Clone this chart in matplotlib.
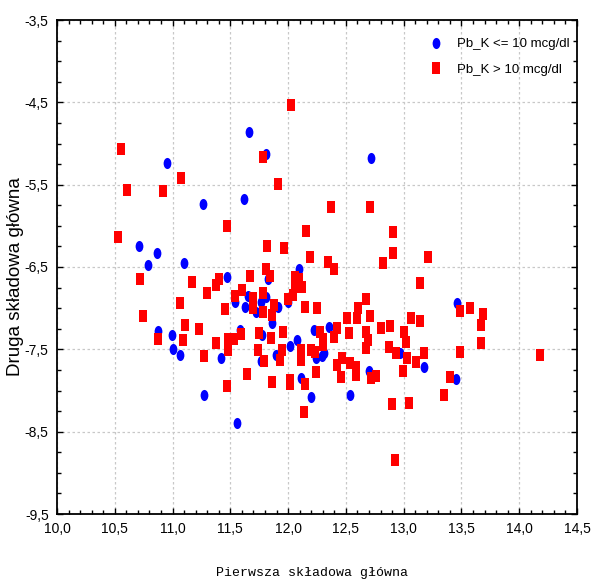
import matplotlib
matplotlib.use("Agg")
import matplotlib.pyplot as plt
import numpy as np
from matplotlib.path import Path
from matplotlib.transforms import Affine2D
from matplotlib.ticker import MultipleLocator

# Pb_K <= 10 mcg/dl (blue ellipses)
low_x = [11.66, 11.806, 10.955, 12.714, 11.263, 11.618, 10.71, 10.865, 10.785, 11.10,
         12.097, 11.468, 11.83, 11.65, 11.54, 11.627, 11.806, 11.765, 11.725, 11.91,
         11.863, 11.996, 10.877, 10.995, 11.0, 11.064, 11.27, 11.555, 11.416, 11.58,
         11.777, 11.763, 11.895, 12.02, 12.074, 12.22, 12.35, 12.24, 12.29, 12.31,
         12.11, 12.20, 12.535, 12.70, 12.97, 13.18, 13.46, 13.45]
low_y = [-4.86, -5.13, -5.24, -5.18, -5.735, -5.67, -6.24, -6.33, -6.476, -6.45,
         -6.53, -6.625, -6.64, -6.85, -6.92, -6.98, -6.87, -6.93, -7.05, -6.99,
         -7.18, -6.93, -7.28, -7.32, -7.50, -7.57, -8.06, -8.40, -7.60, -7.265,
         -7.32, -7.64, -7.57, -7.455, -7.39, -7.27, -7.225, -7.60, -7.58, -7.54,
         -7.85, -8.075, -8.06, -7.76, -7.55, -7.71, -6.94, -7.86]

# Pb_K > 10 mcg/dl (red squares)
high_x = [12.025, 10.556, 11.78, 11.07, 10.606, 10.92, 11.91, 11.474, 10.53, 11.82,
          11.967, 10.72, 12.374, 12.705, 12.155, 12.91, 12.19, 12.91, 13.21, 12.82,
          12.343, 12.40, 13.14, 12.06, 12.094, 12.117, 12.06, 12.045, 11.996, 12.146,
          12.253, 12.674, 12.607, 12.71, 12.60, 12.51, 12.80, 12.88, 12.425, 12.276,
          12.527, 12.397, 12.67, 12.30, 12.30, 12.695, 12.674, 12.11, 12.11, 12.20,
          12.23, 12.47, 12.42, 12.535, 12.585, 12.59, 12.457, 12.757, 12.717, 12.016,
          12.146, 12.24, 12.14, 12.87, 12.93, 13.005, 13.017, 13.06, 13.14, 13.18,
          13.11, 13.03, 12.99, 12.90, 13.05, 12.925, 13.35, 13.40, 13.49, 13.574,
          13.69, 13.67, 13.67, 13.49, 14.18,
          11.165, 11.064, 10.744, 11.11, 11.23, 10.87, 11.09, 11.30, 11.376, 11.40,
          11.54, 11.60, 11.667, 11.70, 11.70, 11.785, 11.806, 11.843, 11.88, 11.785,
          11.863, 11.45, 11.75, 11.85, 11.96, 11.376, 11.48, 11.53, 11.59, 11.27,
          11.477, 11.74, 11.795, 11.93, 11.95, 11.64, 11.86, 12.016, 11.47]
high_y = [-4.53, -5.07, -5.17, -5.42, -5.565, -5.58, -5.49, -6.00, -6.13, -6.24,
          -6.27, -6.65, -5.775, -5.775, -6.06, -6.08, -6.375, -6.33, -6.375, -6.45,
          -6.44, -6.52, -6.70, -6.625, -6.65, -6.74, -6.74, -6.84, -6.89, -6.98,
          -7.00, -6.89, -7.00, -7.10, -7.12, -7.12, -7.24, -7.22, -7.245, -7.29,
          -7.305, -7.35, -7.29, -7.37, -7.45, -7.39, -7.48, -7.51, -7.63, -7.51,
          -7.535, -7.61, -7.69, -7.67, -7.72, -7.81, -7.83, -7.82, -7.845, -7.87,
          -7.925, -7.78, -8.26, -7.475, -7.55, -7.29, -7.41, -7.12, -7.16, -7.55,
          -7.65, -7.60, -7.76, -8.17, -8.15, -8.84, -8.05, -7.83, -7.04, -7.00,
          -7.07, -7.20, -7.42, -7.53, -7.57,
          -6.68, -6.94, -7.10, -7.21, -7.25, -7.37, -7.39, -6.81, -6.72, -6.65,
          -6.85, -6.78, -6.605, -6.88, -7.00, -6.82, -6.53, -6.605, -6.96, -7.05,
          -7.08, -7.01, -7.305, -7.36, -7.29, -7.42, -7.37, -7.37, -7.31, -7.58,
          -7.51, -7.51, -7.64, -7.63, -7.51, -7.80, -7.90, -7.925, -7.94]

series_labels = ["Pb_K <= 10 mcg/dl", "Pb_K > 10 mcg/dl"]
x_ticks = [10.0, 10.5, 11.0, 11.5, 12.0, 12.5, 13.0, 13.5, 14.0, 14.5]
y_ticks = [-9.5, -8.5, -7.5, -6.5, -5.5, -4.5, -3.5]

SANS = ["Liberation Sans", "DejaVu Sans"]
W, H = 591, 580

ellipse = Path.unit_circle().transformed(Affine2D().scale(0.7, 1.0))
rect = Path([(-0.65, -1), (0.65, -1), (0.65, 1), (-0.65, 1), (-0.65, -1)],
            [Path.MOVETO, Path.LINETO, Path.LINETO, Path.LINETO, Path.CLOSEPOLY])

fig = plt.figure(figsize=(W / 100, H / 100), dpi=100)
ax = fig.add_axes([57 / W, 1 - 514 / H, 520 / W, 494 / H])

ax.plot(low_x, low_y, linestyle="none", marker=ellipse, markersize=8,
        color="#0000ff", markeredgewidth=0, label=series_labels[0], zorder=3)
ax.plot(high_x, high_y, linestyle="none", marker=rect, markersize=8,
        color="#ff0000", markeredgewidth=0, label=series_labels[1], zorder=3)

ax.set_xlim(10.0, 14.5)
ax.set_ylim(-9.5, -3.5)
ax.set_xticks(x_ticks)
ax.set_yticks(y_ticks)
ax.set_xticklabels([f"{v:.1f}".replace(".", ",") for v in x_ticks], family=SANS, fontsize=10)
ax.set_yticklabels([f"{v:.1f}".replace(".", ",") for v in y_ticks], family=SANS, fontsize=10)
ax.xaxis.set_minor_locator(MultipleLocator(0.1))
ax.yaxis.set_minor_locator(MultipleLocator(0.25))
ax.tick_params(which="both", direction="in", top=True, right=True, width=1.0)
ax.tick_params(which="major", length=4, pad=6)
ax.tick_params(which="minor", length=3)

ax.grid(True, which="major", color="#c8c8c8", linestyle=(0, (2, 2)), linewidth=0.9, zorder=0)
ax.set_axisbelow(True)
for s in ax.spines.values():
    s.set_linewidth(1.3)

fig.text(312 / W, 1 - 573 / H, "Pierwsza składowa główna",
         family=["Liberation Mono", "DejaVu Sans Mono"], fontsize=9.5,
         ha="center", va="center")
fig.text(16 / W, 1 - 277 / H, "Druga składowa główna", family=SANS, fontsize=13.5,
         rotation=90, ha="center", va="center")

ax.legend(loc="upper left", bbox_to_anchor=(428 / W, 1 - 38 / H),
          bbox_transform=fig.transFigure, frameon=False,
          prop={"family": SANS, "size": 9.5}, handletextpad=0.95, labelspacing=1.0,
          borderaxespad=0, borderpad=0, handlelength=1.25)

fig.savefig("out.png", dpi=100)
